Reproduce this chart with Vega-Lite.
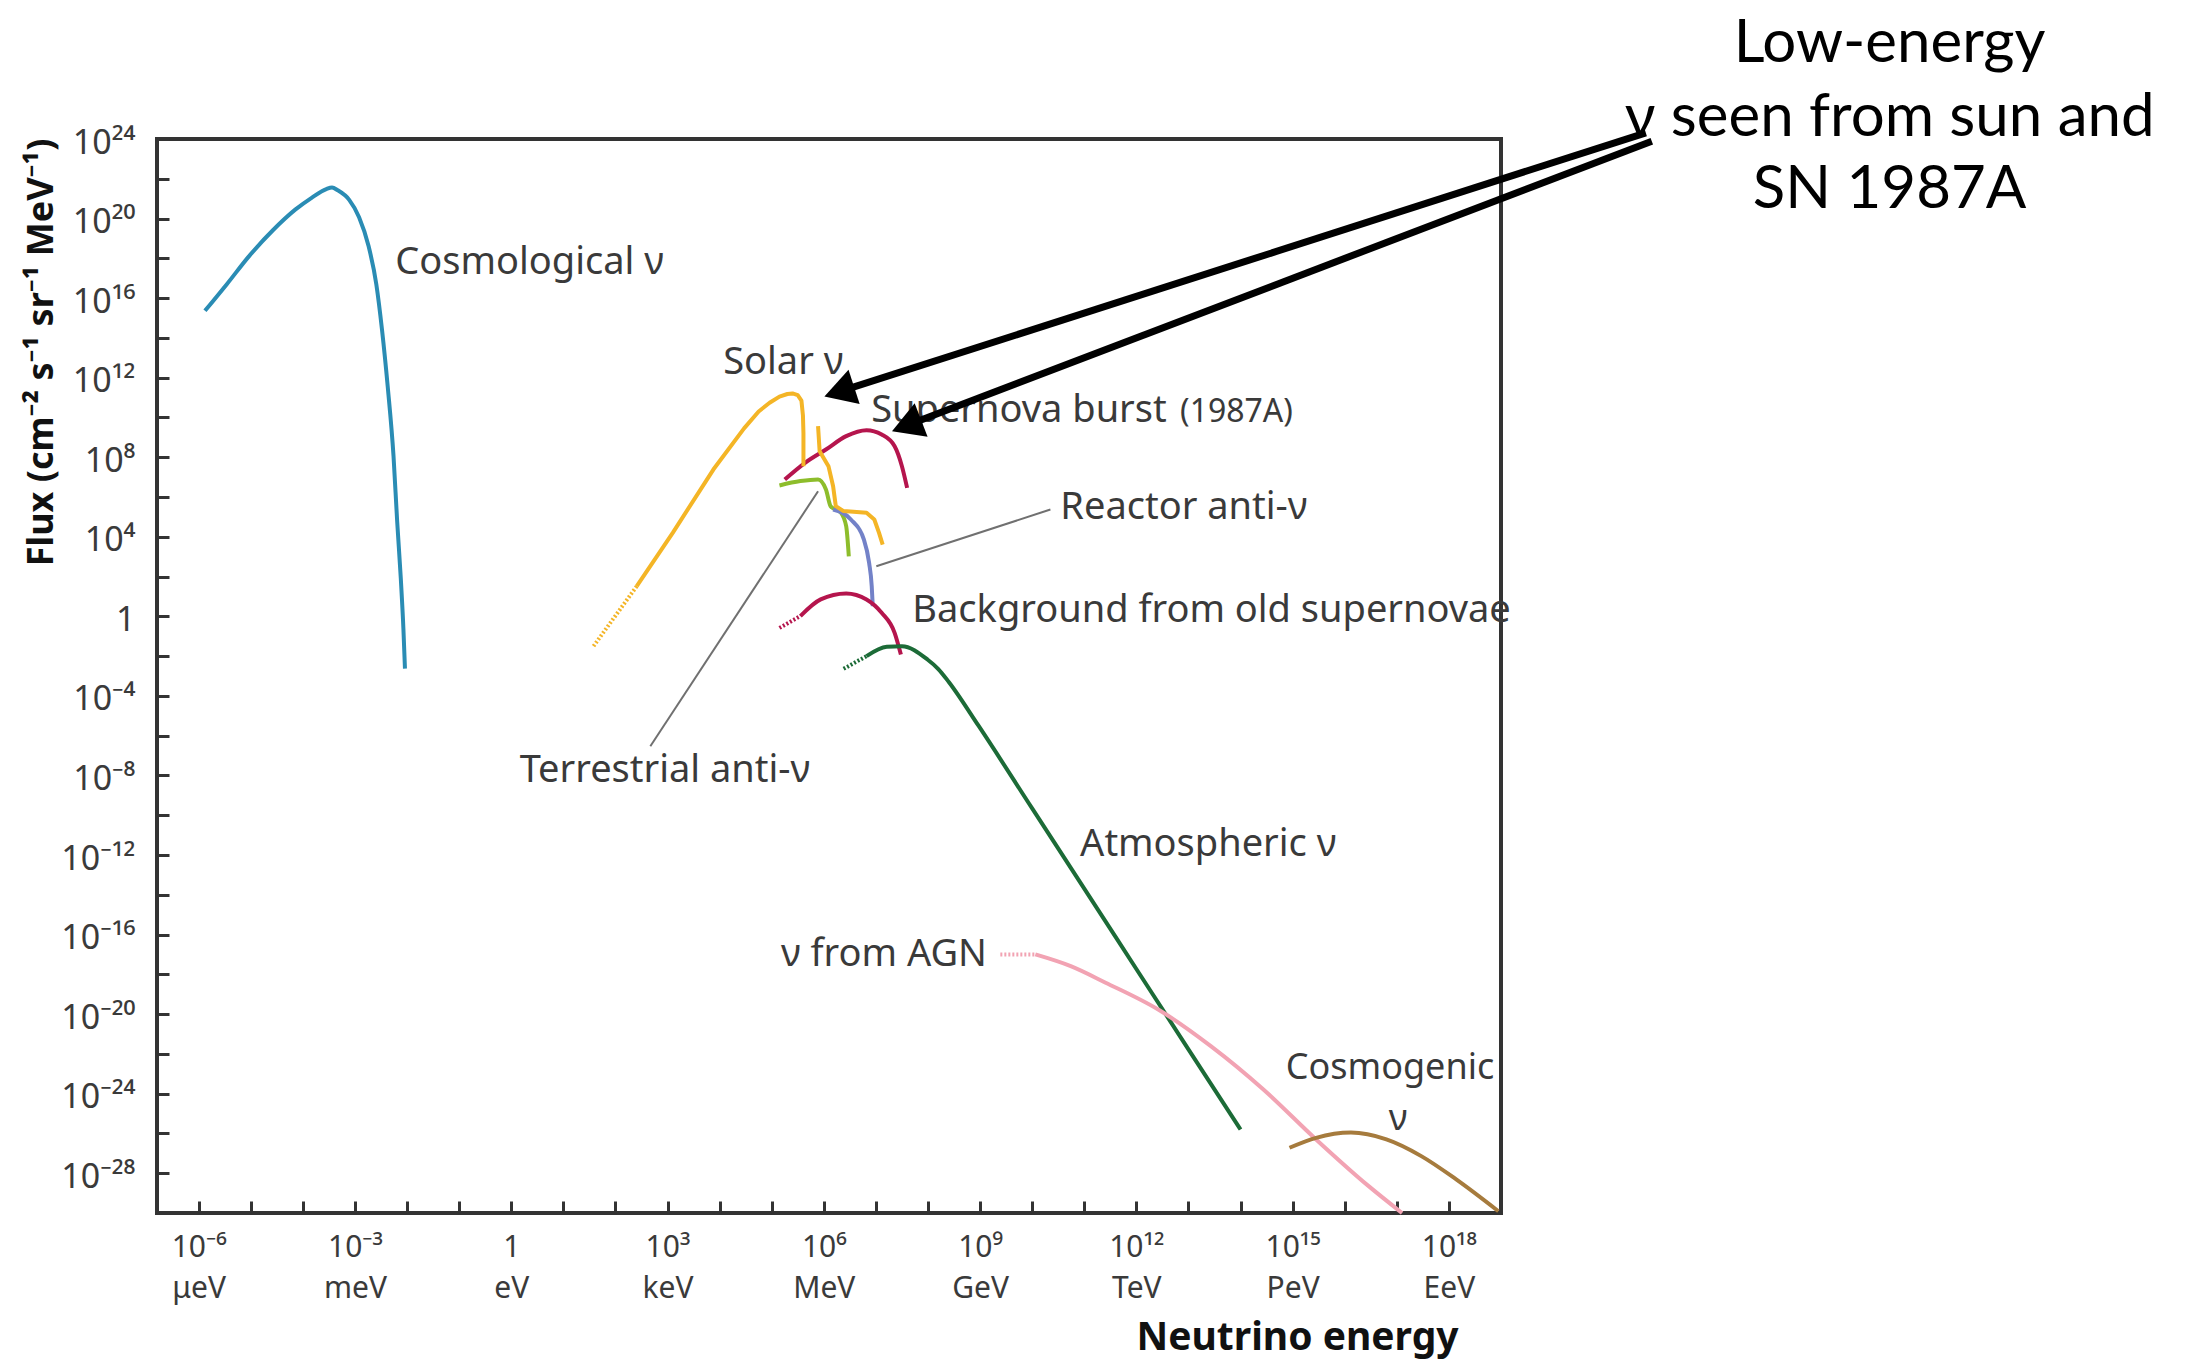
{
  "$schema": "https://vega.github.io/schema/vega-lite/v6.json",
  "autosize": {"type": "none"},
  "padding": {"left": 157, "top": 139, "right": 685, "bottom": 148},
  "width": 1344,
  "height": 1074,
  "background": "white",
  "config": {
    "view": {"stroke": "#333333", "strokeWidth": 4},
    "text": {"font": "Noto Sans"}
  },
  "datasets": {
    "curves": [
      {"s": "cosmo", "E": 1.32e-6, "F": 2.29e15},
      {"s": "cosmo", "E": 3.47e-6, "F": 5.01e16},
      {"s": "cosmo", "E": 9.55e-6, "F": 1.41e18},
      {"s": "cosmo", "E": 2.63e-5, "F": 2.51e19},
      {"s": "cosmo", "E": 7.24e-5, "F": 2.88e20},
      {"s": "cosmo", "E": 1.45e-4, "F": 1.07e21},
      {"s": "cosmo", "E": 2.82e-4, "F": 3.02e21},
      {"s": "cosmo", "E": 3.63e-4, "F": 3.63e21},
      {"s": "cosmo", "E": 4.68e-4, "F": 2.63e21},
      {"s": "cosmo", "E": 7.76e-4, "F": 8.71e20},
      {"s": "cosmo", "E": 1.20e-3, "F": 1.17e20},
      {"s": "cosmo", "E": 1.82e-3, "F": 4.27e18},
      {"s": "cosmo", "E": 2.57e-3, "F": 5.01e16},
      {"s": "cosmo", "E": 3.31e-3, "F": 2.51e14},
      {"s": "cosmo", "E": 4.27e-3, "F": 3.24e11},
      {"s": "cosmo", "E": 5.50e-3, "F": 1.12e8},
      {"s": "cosmo", "E": 6.46e-3, "F": 6.03e4},
      {"s": "cosmo", "E": 7.59e-3, "F": 77.6},
      {"s": "cosmo", "E": 8.51e-3, "F": 0.245},
      {"s": "cosmo", "E": 9.12e-3, "F": 2.34e-3},
      {"s": "sn", "E": 1.78e5, "F": 7.59e6},
      {"s": "sn", "E": 4.37e5, "F": 5.25e7},
      {"s": "sn", "E": 1.10e6, "F": 2.45e8},
      {"s": "sn", "E": 2.69e6, "F": 1.15e9},
      {"s": "sn", "E": 6.61e6, "F": 2.29e9},
      {"s": "sn", "E": 1.29e7, "F": 1.38e9},
      {"s": "sn", "E": 2.29e7, "F": 3.55e8},
      {"s": "sn", "E": 3.16e7, "F": 3.55e7},
      {"s": "sn", "E": 3.98e7, "F": 2.88e6},
      {"s": "terr", "E": 1.41e5, "F": 3.80e6},
      {"s": "terr", "E": 3.55e5, "F": 6.31e6},
      {"s": "terr", "E": 7.76e5, "F": 7.59e6},
      {"s": "terr", "E": 1.10e6, "F": 2.40e6},
      {"s": "terr", "E": 1.35e6, "F": 3.47e5},
      {"s": "terr", "E": 2.14e6, "F": 1.62e5},
      {"s": "terr", "E": 2.69e6, "F": 3.39e4},
      {"s": "terr", "E": 3.02e6, "F": 1047},
      {"s": "reactor", "E": 1.51e6, "F": 2.34e5},
      {"s": "reactor", "E": 3.31e6, "F": 7.41e4},
      {"s": "reactor", "E": 5.89e6, "F": 7244},
      {"s": "reactor", "E": 7.41e6, "F": 490},
      {"s": "reactor", "E": 8.32e6, "F": 33.1},
      {"s": "reactor", "E": 8.71e6, "F": 3.24},
      {"s": "dsnb", "E": 3.55e5, "F": 1.02},
      {"s": "dsnb", "E": 8.71e5, "F": 7.08},
      {"s": "dsnb", "E": 2.69e6, "F": 14.1},
      {"s": "dsnb", "E": 6.61e6, "F": 7.08},
      {"s": "dsnb", "E": 1.29e7, "F": 1.51},
      {"s": "dsnb", "E": 2.29e7, "F": 0.148},
      {"s": "dsnb", "E": 3.02e7, "F": 0.012},
      {"s": "atm", "E": 6.61e6, "F": 0.01},
      {"s": "atm", "E": 1.62e7, "F": 0.0295},
      {"s": "atm", "E": 3.16e7, "F": 0.0316},
      {"s": "atm", "E": 9.77e7, "F": 6.76e-3},
      {"s": "atm", "E": 1.58e8, "F": 2.24e-3},
      {"s": "atm", "E": 2.51e8, "F": 5.01e-4},
      {"s": "atm", "E": 9.33e8, "F": 3.16e-6},
      {"s": "atm", "E": 1e10, "F": 2.19e-10},
      {"s": "atm", "E": 1e11, "F": 2.04e-14},
      {"s": "atm", "E": 1e12, "F": 1.86e-18},
      {"s": "atm", "E": 1e13, "F": 1.70e-22},
      {"s": "atm", "E": 1e14, "F": 1.58e-26},
      {"s": "agn", "E": 1.15e10, "F": 1e-17},
      {"s": "agn", "E": 5.50e10, "F": 2.57e-18},
      {"s": "agn", "E": 2.57e11, "F": 3.80e-19},
      {"s": "agn", "E": 2.63e12, "F": 1.70e-20},
      {"s": "agn", "E": 2.69e13, "F": 2.45e-22},
      {"s": "agn", "E": 2.75e14, "F": 1.62e-24},
      {"s": "agn", "E": 2.82e15, "F": 5.01e-27},
      {"s": "agn", "E": 2.88e16, "F": 2.24e-29},
      {"s": "agn", "E": 1.26e17, "F": 1e-30},
      {"s": "cosmogenic", "E": 8.71e14, "F": 1.91e-27},
      {"s": "cosmogenic", "E": 2.82e15, "F": 6.03e-27},
      {"s": "cosmogenic", "E": 1.32e16, "F": 1.10e-26},
      {"s": "cosmogenic", "E": 6.31e16, "F": 5.01e-27},
      {"s": "cosmogenic", "E": 2.95e17, "F": 7.24e-28},
      {"s": "cosmogenic", "E": 1.38e18, "F": 4.90e-29},
      {"s": "cosmogenic", "E": 8.91e18, "F": 1.23e-30}
    ],
    "solar": [
      {"s": "solar_pp", "o": 1, "E": 257, "F": 33.1},
      {"s": "solar_pp", "o": 2, "E": 1259, "F": 1.58e4},
      {"s": "solar_pp", "o": 3, "E": 7586, "F": 2.40e7},
      {"s": "solar_pp", "o": 4, "E": 2.95e4, "F": 2.82e9},
      {"s": "solar_pp", "o": 5, "E": 5.62e4, "F": 2.0e10},
      {"s": "solar_pp", "o": 6, "E": 9.12e4, "F": 5.50e10},
      {"s": "solar_pp", "o": 7, "E": 1.41e5, "F": 1.12e11},
      {"s": "solar_pp", "o": 8, "E": 2.0e5, "F": 1.51e11},
      {"s": "solar_pp", "o": 9, "E": 2.51e5, "F": 1.62e11},
      {"s": "solar_pp", "o": 10, "E": 3.16e5, "F": 1.32e11},
      {"s": "solar_pp", "o": 11, "E": 3.72e5, "F": 7.08e10},
      {"s": "solar_pp", "o": 12, "E": 3.98e5, "F": 1.26e10},
      {"s": "solar_pp", "o": 13, "E": 4.07e5, "F": 1.58e9},
      {"s": "solar_pp", "o": 14, "E": 4.07e5, "F": 3.55e7},
      {"s": "solar_b8", "o": 1, "E": 7.76e5, "F": 3.63e9},
      {"s": "solar_b8", "o": 2, "E": 8.32e5, "F": 2.00e8},
      {"s": "solar_b8", "o": 3, "E": 1.23e6, "F": 3.55e7},
      {"s": "solar_b8", "o": 4, "E": 1.51e6, "F": 3.47e6},
      {"s": "solar_b8", "o": 5, "E": 1.70e6, "F": 3.47e5},
      {"s": "solar_b8", "o": 6, "E": 2.40e6, "F": 1.95e5},
      {"s": "solar_b8", "o": 7, "E": 6.61e6, "F": 1.62e5},
      {"s": "solar_b8", "o": 8, "E": 9.33e6, "F": 7.41e4},
      {"s": "solar_b8", "o": 9, "E": 1.15e7, "F": 1.58e4},
      {"s": "solar_b8", "o": 10, "E": 1.35e7, "F": 4070}
    ],
    "dotted": [
      {"s": "solar_x", "E": 38.0, "F": 0.0316},
      {"s": "solar_x", "E": 257, "F": 33.1},
      {"s": "dsnb_x", "E": 1.41e5, "F": 0.263},
      {"s": "dsnb_x", "E": 3.55e5, "F": 1.02},
      {"s": "atm_x", "E": 2.40e6, "F": 2.29e-3},
      {"s": "atm_x", "E": 6.61e6, "F": 0.01},
      {"s": "agn_x", "E": 2.45e9, "F": 1e-17},
      {"s": "agn_x", "E": 1.15e10, "F": 1e-17}
    ],
    "leaders": [
      {"E": 7.76e5, "F": 1.95e6, "E2": 468, "F2": 2.95e-7},
      {"E": 1.02e7, "F": 331, "E2": 2.24e10, "F2": 2.34e5}
    ],
    "labels": [
      {"t": "Cosmological ν", "E": 5.96e-3, "F": 1.55e17},
      {"t": "Solar ν", "E": 1.17e4, "F": 1.45e12},
      {"t": "Supernova burst", "E": 8.13e6, "F": 5.62e9},
      {"t": "Reactor anti-ν", "E": 3.47e10, "F": 7.41e4},
      {"t": "Background from old supernovae", "E": 5.01e7, "F": 0.49},
      {"t": "Terrestrial anti-ν", "E": 1.45, "F": 4.47e-9},
      {"t": "Atmospheric ν", "E": 8.32e10, "F": 8.51e-13},
      {"t": "ν from AGN", "E": 1.51e5, "F": 2.51e-18}
    ],
    "cosmogenic_label": [
      {"t": "Cosmogenic", "E": 7.4e16, "F": 5.2e-24},
      {"t": "ν", "E": 1.05e17, "F": 1.45e-26}
    ],
    "note": [
      {"t": "Low-energy", "E": 2.88e26, "F": 7.08e27},
      {"t": "ν seen from sun and", "E": 2.88e26, "F": 1.35e24},
      {"t": "SN 1987A", "E": 2.88e26, "F": 3.24e20}
    ],
    "arrows": [
      {"a": "sun", "E": 6.03e21, "F": 2.04e24, "E2": 1.98e6, "F2": 1.97e11},
      {"a": "sn", "E": 7.85e21, "F": 7.76e23, "E2": 3.88e7, "F2": 3.89e9}
    ]
  },
  "encoding": {
    "x": {
      "field": "E", "type": "quantitative",
      "scale": {"type": "log", "domain": [1.585e-7, 1e19], "nice": false},
      "axis": {
        "values": [1e-6, 1e-5, 1e-4, 1e-3, 1e-2, 1e-1, 1, 10, 100, 1e3, 1e4, 1e5, 1e6, 1e7, 1e8, 1e9, 1e10, 1e11, 1e12, 1e13, 1e14, 1e15, 1e16, 1e17, 1e18],
        "labelExpr": "(round(log(datum.value)/LN10)+6)%3==0 ? [['10⁻⁶','10⁻³','1','10³','10⁶','10⁹','10¹²','10¹⁵','10¹⁸'][(round(log(datum.value)/LN10)+6)/3], ['μeV','meV','eV','keV','MeV','GeV','TeV','PeV','EeV'][(round(log(datum.value)/LN10)+6)/3]] : ''",
        "title": "Neutrino energy",
        "titleFont": "Noto Sans", "titleFontWeight": "bold", "titleFontSize": 39, "titleColor": "#111111",
        "titleX": 1140, "titleY": 136, "titleAlign": "center", "titleBaseline": "alphabetic", "titleAnchor": null,
        "tickSize": -12, "tickWidth": 3, "tickColor": "#333333",
        "domain": false, "grid": false,
        "labelFont": "Noto Sans", "labelFontSize": 30, "labelColor": "#3a3a3a",
        "labelPadding": 55, "labelBaseline": "alphabetic", "labelLineHeight": 41.5,
        "labelOverlap": false, "labelFlush": false, "labelBound": false
      }
    },
    "y": {
      "field": "F", "type": "quantitative",
      "scale": {"type": "log", "domain": [1e-30, 1e24], "nice": false},
      "axis": {
        "values": [1e-28, 1e-26, 1e-24, 1e-22, 1e-20, 1e-18, 1e-16, 1e-14, 1e-12, 1e-10, 1e-8, 1e-6, 1e-4, 1e-2, 1, 100, 1e4, 1e6, 1e8, 1e10, 1e12, 1e14, 1e16, 1e18, 1e20, 1e22, 1e24],
        "labelExpr": "round(log(datum.value)/LN10)%4==0 ? ['10⁻²⁸','10⁻²⁴','10⁻²⁰','10⁻¹⁶','10⁻¹²','10⁻⁸','10⁻⁴','1','10⁴','10⁸','10¹²','10¹⁶','10²⁰','10²⁴'][(round(log(datum.value)/LN10)+28)/4] : ''",
        "title": "Flux (cm⁻² s⁻¹ sr⁻¹ MeV⁻¹)",
        "titleFont": "Noto Sans", "titleFontWeight": "bold", "titleFontSize": 36, "titleColor": "#111111",
        "titleX": -116, "titleY": 213, "titleAngle": -90, "titleAlign": "center", "titleBaseline": "middle", "titleAnchor": null,
        "tickSize": -12, "tickWidth": 3, "tickColor": "#333333",
        "domain": false, "grid": false,
        "labelFont": "Noto Sans", "labelFontSize": 34, "labelColor": "#3a3a3a",
        "labelPadding": 34, "labelBaseline": "middle", "labelOffset": 4,
        "labelOverlap": false, "labelFlush": false, "labelBound": false
      }
    }
  },
  "layer": [
    {
      "data": {"name": "curves"},
      "mark": {"type": "line", "interpolate": "monotone", "strokeWidth": 4},
      "encoding": {
        "detail": {"field": "s"},
        "color": {"field": "s", "type": "nominal", "legend": null,
          "scale": {
            "domain": ["cosmo", "solar_x", "solar_pp", "solar_b8", "sn", "terr", "reactor", "dsnb_x", "dsnb", "atm_x", "atm", "agn_x", "agn", "cosmogenic"],
            "range": ["#2a8cb4", "#f4b526", "#f4b526", "#f4b526", "#b5154d", "#8dbd2b", "#7382c8", "#b5154d", "#b5154d", "#1c6b37", "#1c6b37", "#f2a3b3", "#f2a3b3", "#a67b3d"]
          }
        }
      }
    },
    {
      "data": {"name": "solar"},
      "mark": {"type": "line", "interpolate": "linear", "strokeWidth": 4, "strokeJoin": "round"},
      "encoding": {
        "detail": {"field": "s"},
        "order": {"field": "o", "type": "quantitative"},
        "color": {"field": "s", "type": "nominal", "legend": null}
      }
    },
    {
      "data": {"name": "dotted"},
      "mark": {"type": "line", "strokeWidth": 4, "strokeDash": [2, 2]},
      "encoding": {
        "detail": {"field": "s"},
        "color": {"field": "s", "type": "nominal", "legend": null}
      }
    },
    {
      "data": {"name": "leaders"},
      "mark": {"type": "rule", "color": "#707070", "strokeWidth": 2},
      "encoding": {
        "x2": {"field": "E2"},
        "y2": {"field": "F2"}
      }
    },
    {
      "data": {"name": "labels"},
      "mark": {"type": "text", "align": "left", "baseline": "alphabetic", "font": "Noto Sans", "fontSize": 38, "color": "#3a3a3a"},
      "encoding": {"text": {"field": "t"}}
    },
    {
      "data": {"name": "cosmogenic_label"},
      "mark": {"type": "text", "align": "center", "baseline": "alphabetic", "font": "Noto Sans", "fontSize": 36, "color": "#3a3a3a"},
      "encoding": {"text": {"field": "t"}}
    },
    {
      "data": {"values": [{"t": "(1987A)", "E": 6.9e12, "F": 5.62e9}]},
      "mark": {"type": "text", "align": "left", "baseline": "alphabetic", "font": "Noto Sans", "fontSize": 32, "color": "#3a3a3a"},
      "encoding": {"text": {"field": "t"}}
    },
    {
      "data": {"name": "note"},
      "mark": {"type": "text", "align": "center", "baseline": "alphabetic", "font": "Lato", "fontSize": 60, "color": "#000000"},
      "encoding": {"text": {"field": "t"}}
    },
    {
      "data": {"name": "arrows"},
      "mark": {"type": "rule", "color": "#000000", "strokeWidth": 7},
      "encoding": {
        "x2": {"field": "E2"},
        "y2": {"field": "F2"}
      }
    },
    {
      "data": {"values": [{"E": 1.98e6, "F": 1.97e11}]},
      "mark": {"type": "point", "shape": "triangle-up", "filled": true, "size": 1300, "angle": 252, "color": "#000000", "opacity": 1}
    },
    {
      "data": {"values": [{"E": 3.88e7, "F": 3.89e9}]},
      "mark": {"type": "point", "shape": "triangle-up", "filled": true, "size": 1300, "angle": 249, "color": "#000000", "opacity": 1}
    }
  ]
}
